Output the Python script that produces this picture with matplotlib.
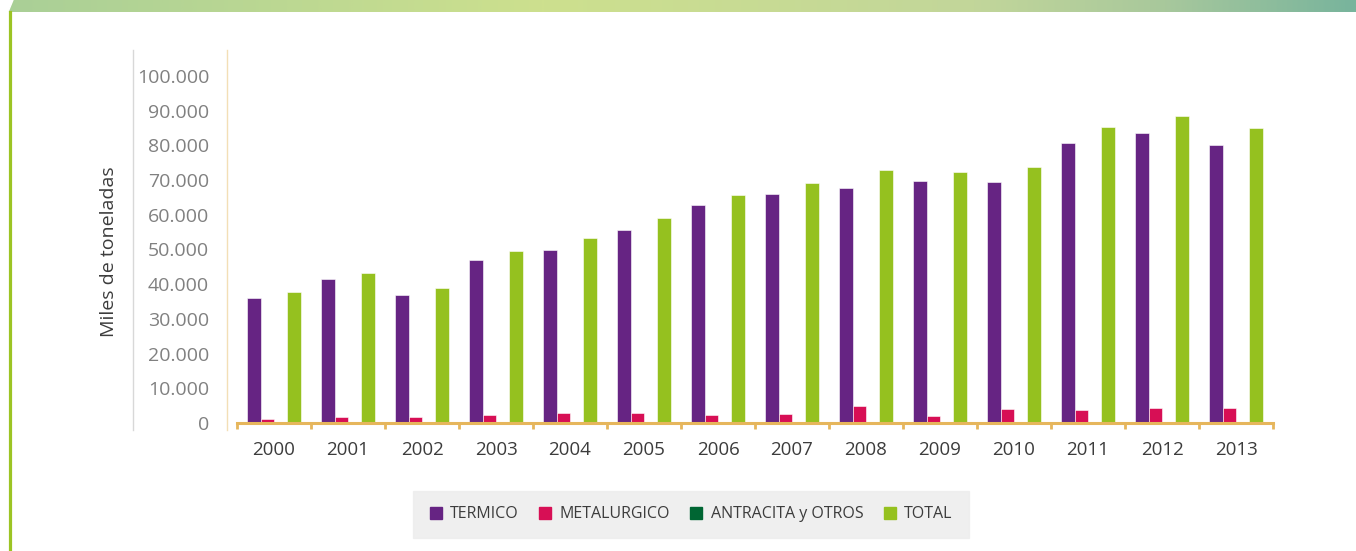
import numpy as np
import matplotlib
matplotlib.use("Agg")
from matplotlib import pyplot as plt
from matplotlib.colors import LinearSegmentedColormap
from matplotlib.lines import Line2D
from matplotlib.patches import Polygon

plt.rcParams['font.family'] = ['Open Sans', 'DejaVu Sans']

years = ['2000', '2001', '2002', '2003', '2004', '2005', '2006',
         '2007', '2008', '2009', '2010', '2011', '2012', '2013']
termico = [35900, 41500, 36800, 47000, 49800, 55700, 62900,
           66000, 67700, 69600, 69400, 80800, 83700, 80200]
metalurgico = [1200, 1600, 1600, 2200, 3000, 3000, 2400,
               2700, 5000, 2100, 4100, 3800, 4400, 4400]
antracita = [250, 250, 250, 250, 250, 250, 250,
             250, 250, 250, 250, 250, 250, 250]
total = [37800, 43200, 39000, 49500, 53400, 59100, 65600,
         69300, 73000, 72200, 73900, 85200, 88400, 84900]

series_names = ['TERMICO', 'METALURGICO', 'ANTRACITA y OTROS', 'TOTAL']
colors = ['#662483', '#d70f55', '#006633', '#95c11f']
yticks = [0, 10000, 20000, 30000, 40000, 50000, 60000, 70000, 80000, 90000, 100000]
ytick_labels = ['0', '10.000', '20.000', '30.000', '40.000', '50.000', '60.000',
                '70.000', '80.000', '90.000', '100.000']

W, H = 1356, 551
fig = plt.figure(figsize=(W / 100, H / 100), dpi=100)

# top gradient banner
axb = fig.add_axes([0, 1 - 12 / H, 1, 12 / H])
cmap = LinearSegmentedColormap.from_list(
    'banner', [(0, '#a9cf97'), (0.4, '#cde08e'), (0.72, '#c2d69a'),
               (0.86, '#a8c89c'), (1, '#78b49c')])
axb.imshow(np.linspace(0, 1, 512)[None, :], aspect='auto', cmap=cmap,
           extent=(0, W, 0, 12))
axb.add_patch(Polygon([(0, 12), (13, 12), (8, 0), (0, 0)], color='white'))
axb.set_xlim(0, W)
axb.set_ylim(0, 12)
axb.axis('off')

# decorative vertical lines
fig.add_artist(Line2D([9.5 / W, 9.5 / W], [0, 1 - 12 / H], transform=fig.transFigure,
                      color='#9cc424', lw=2.3))
fig.add_artist(Line2D([133 / W, 133 / W], [1 - 430 / H, 1 - 50 / H], transform=fig.transFigure,
                      color='#d8d8d8', lw=1))
fig.add_artist(Line2D([227 / W, 227 / W], [1 - 430 / H, 1 - 50 / H], transform=fig.transFigure,
                      color='#f3dfb6', lw=1))

ax = fig.add_axes([237 / W, 1 - 423 / H, (1273 - 237) / W, (423 - 76) / H])
x = np.arange(len(years))
w = 0.182
data = [termico, metalurgico, antracita, total]
for i, (vals, c) in enumerate(zip(data, colors)):
    ax.bar(x + (i - 1.5) * w, vals, width=w, color=c, edgecolor='white',
           linewidth=0.4, label=series_names[i], zorder=2)

ax.set_xlim(-0.5, len(years) - 0.5)
ax.set_ylim(0, 100000)
ax.set_yticks(yticks)
ax.set_yticklabels(ytick_labels)
ax.tick_params(axis='y', length=0, pad=20, labelsize=14, labelcolor='#808080')

ax.set_xticks(np.arange(-0.5, len(years)), minor=False)
ax.set_xticklabels([])
ax.set_xticks(x, minor=True)
ax.set_xticklabels(years, minor=True)
ax.tick_params(axis='x', which='major', direction='out', length=4, width=2,
               color='#e6b65c')
ax.tick_params(axis='x', which='minor', length=0, pad=13, labelsize=13.5,
               labelcolor='#3c3c3c')

for s in ['top', 'right', 'left']:
    ax.spines[s].set_visible(False)
ax.spines['bottom'].set_color('#e6b65c')
ax.spines['bottom'].set_linewidth(2.2)
ax.spines['bottom'].set_zorder(3)

fig.text(109 / W, 1 - 252 / H, 'Miles de toneladas', rotation=90, ha='center',
         va='center', fontsize=14, color='#3c3c3c')

# legend
handles = [Line2D([], [], marker='s', linestyle='none', markersize=9,
                  markerfacecolor=c, markeredgecolor=c) for c in colors]
leg = fig.legend(handles, series_names, loc='center', ncol=4,
                 bbox_to_anchor=(691 / W, 1 - 514.5 / H), frameon=True,
                 fontsize=11.5, handlelength=0.8, handletextpad=0.5,
                 columnspacing=1.25, borderpad=1.0, labelcolor='#3c3c3c',
                 fancybox=False)
leg.get_frame().set_facecolor('#ececec')
leg.get_frame().set_edgecolor('#ececec')

fig.savefig('out.png', dpi=100)
